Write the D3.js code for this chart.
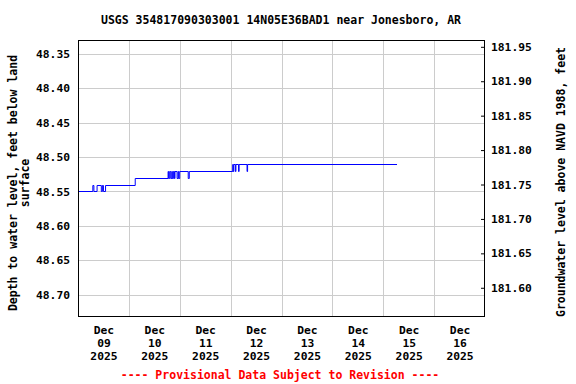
<!DOCTYPE html>
<html>
<head>
<meta charset="utf-8">
<script src="https://cdn.jsdelivr.net/npm/d3@7"></script>
<style>
  html, body { margin: 0; padding: 0; background: #fff; }
  svg text { font-family: "DejaVu Sans Mono", "Liberation Mono", monospace; font-weight: bold; }
</style>
</head>
<body>
<svg id="chart" width="576" height="384"></svg>
<script>
// ---- data ----
const titleText = "USGS 354817090303001 14N05E36BAD1 near Jonesboro, AR";
const leftTitleLines = ["Depth to water level, feet below land", "surface"];
const rightTitle = "Groundwater level above NAVD 1988, feet";
const footerText = "---- Provisional Data Subject to Revision ----";

const obsTimes = [
  "2025-12-09 00:00", "2025-12-09 07:00", "2025-12-09 07:30", "2025-12-09 09:00",
  "2025-12-09 11:00", "2025-12-09 11:30", "2025-12-09 12:00", "2025-12-09 13:00",
  "2025-12-10 03:00",
  "2025-12-10 18:30", "2025-12-10 18:45", "2025-12-10 19:15", "2025-12-10 19:45",
  "2025-12-10 20:15", "2025-12-10 20:30", "2025-12-10 21:00", "2025-12-10 21:30",
  "2025-12-10 21:45", "2025-12-10 22:45", "2025-12-10 23:15", "2025-12-10 23:30",
  "2025-12-10 23:59", "2025-12-11 04:00", "2025-12-11 04:30",
  "2025-12-12 01:00", "2025-12-12 01:15", "2025-12-12 01:30", "2025-12-12 02:15",
  "2025-12-12 02:30", "2025-12-12 03:45", "2025-12-12 04:00", "2025-12-12 07:45",
  "2025-12-12 08:00", "2025-12-15 06:30"
];
const depthValues = [
  48.55, 48.54, 48.55, 48.54,
  48.55, 48.54, 48.55, 48.54,
  48.53,
  48.52, 48.53, 48.52, 48.53,
  48.52, 48.53, 48.52, 48.53,
  48.52, 48.53, 48.52, 48.53,
  48.52, 48.53, 48.52,
  48.51, 48.52, 48.51, 48.52,
  48.51, 48.52, 48.51, 48.52,
  48.51, 48.51
];

const leftTicks = [48.35, 48.40, 48.45, 48.50, 48.55, 48.60, 48.65, 48.70];
const rightTicks = [181.95, 181.90, 181.85, 181.80, 181.75, 181.70, 181.65, 181.60];
const datumOffset = 230.29; // level = datumOffset - depth
const depthDomain = [48.3301, 48.731];
const timeDomain = ["2025-12-09 00:00", "2025-12-17 00:00"];
const gridDays = ["2025-12-10", "2025-12-11", "2025-12-12", "2025-12-13", "2025-12-14", "2025-12-15", "2025-12-16"];
const labelDays = ["2025-12-09", "2025-12-10", "2025-12-11", "2025-12-12", "2025-12-13", "2025-12-14", "2025-12-15", "2025-12-16"];

// ---- layout ----
const L = 78, R = 484, T = 40, B = 316;
const svg = d3.select("#chart");
const parseT = d3.timeParse("%Y-%m-%d %H:%M");
const parseD = d3.timeParse("%Y-%m-%d");

const data = obsTimes.map((t, i) => ({ t: parseT(t), v: depthValues[i] }));

const x = d3.scaleTime().domain(timeDomain.map(parseT)).range([L, 485]);
const y = d3.scaleLinear().domain(depthDomain).range([T, B]);
const yR = d3.scaleLinear().domain(depthDomain.map(d => datumOffset - d)).range([T, B]);

// grid
svg.append("g").selectAll("line.h").data(leftTicks).join("line")
  .attr("x1", L).attr("x2", R)
  .attr("y1", d => Math.round(y(d)) + 0.5).attr("y2", d => Math.round(y(d)) + 0.5)
  .attr("stroke", "#cccccc").attr("stroke-width", 1);
svg.append("g").selectAll("line.v").data(gridDays).join("line")
  .attr("x1", d => Math.round(x(parseD(d))) + 0.5).attr("x2", d => Math.round(x(parseD(d))) + 0.5)
  .attr("y1", T).attr("y2", B)
  .attr("stroke", "#cccccc").attr("stroke-width", 1);

// data line
const line = d3.line().x(d => x(d.t)).y(d => Math.round(y(d.v)) + 0.5).curve(d3.curveStepAfter);
svg.append("path").datum(data)
  .attr("d", line)
  .attr("fill", "none").attr("stroke", "#0000ff").attr("stroke-width", 1);

// frame
svg.append("rect").attr("x", L + 0.5).attr("y", T + 0.5)
  .attr("width", R - L).attr("height", B - T)
  .attr("fill", "none").attr("stroke", "#000").attr("stroke-width", 1);

// left axis
const gl = svg.append("g").attr("transform", `translate(${L},0)`)
  .call(d3.axisLeft(y).tickValues(leftTicks).tickSize(0).tickPadding(8).tickFormat(d3.format(".2f")));
gl.select(".domain").remove();
gl.selectAll("text").attr("font-size", "11.3px").attr("fill", "#000")
  .style("font-family", "DejaVu Sans Mono").style("font-weight", "bold");

// right axis
const gr = svg.append("g").attr("transform", `translate(${R},0)`)
  .call(d3.axisRight(yR).tickValues(rightTicks).tickSize(-3).tickPadding(7).tickFormat(d3.format(".2f")));
gr.select(".domain").remove();
gr.selectAll("line").attr("stroke", "#000");
gr.selectAll("text").attr("font-size", "11.3px").attr("fill", "#000")
  .style("font-family", "DejaVu Sans Mono").style("font-weight", "bold");

// bottom axis labels (at noon of each day)
const fmtMon = d3.timeFormat("%b"), fmtDay = d3.timeFormat("%d"), fmtYr = d3.timeFormat("%Y");
const gb = svg.append("g").attr("transform", `translate(0,${B})`)
  .call(d3.axisBottom(x).tickValues(labelDays.map(d => d3.timeHour.offset(parseD(d), 12))).tickSize(0).tickFormat(""));
gb.select(".domain").remove();
gb.selectAll(".tick").each(function(d) {
  const t = d3.select(this).append("text").attr("fill", "#000").attr("text-anchor", "middle")
    .attr("font-size", "11.3px");
  [fmtMon(d), fmtDay(d), fmtYr(d)].forEach((s, i) => {
    t.append("tspan").attr("x", 0).attr("y", 18 + i * 13).text(s);
  });
});

// title
svg.append("text").attr("x", 281).attr("y", 24).attr("text-anchor", "middle")
  .attr("font-size", "11.5px").attr("fill", "#000").text(titleText);

// left axis title
leftTitleLines.forEach((s, i) => {
  svg.append("text").attr("transform", `translate(${17 + i * 12},183) rotate(-90)`)
    .attr("text-anchor", "middle").attr("font-size", "11.5px").attr("fill", "#000").text(s);
});

// right axis title
svg.append("text").attr("transform", `translate(565,182) rotate(-90)`)
  .attr("text-anchor", "middle").attr("font-size", "11.5px").attr("fill", "#000").text(rightTitle);

// footer
svg.append("text").attr("x", 280).attr("y", 379).attr("text-anchor", "middle")
  .attr("font-size", "11.5px").attr("fill", "#ff0000").text(footerText);
</script>
</body>
</html>
